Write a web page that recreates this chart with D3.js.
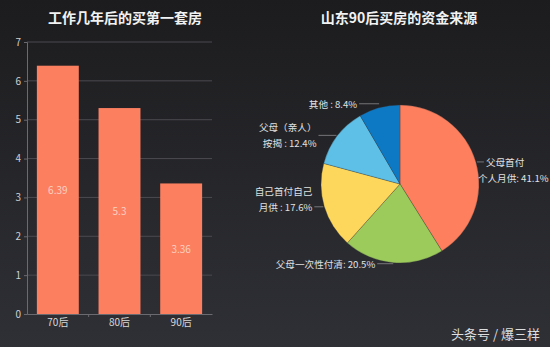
<!DOCTYPE html>
<html><head><meta charset="utf-8">
<script src="https://cdn.jsdelivr.net/npm/d3@7/dist/d3.min.js"></script>
<style>html,body{margin:0;padding:0;background:#26262a;}svg{display:block;}</style>
</head><body>
<svg id="c" width="550" height="347"></svg>
<script>
const barCategories = ["70后", "80后", "90后"];
const barValues = [6.39, 5.3, 3.36];
const barValueLabels = ["6.39", "5.3", "3.36"];
const yTicks = [0, 1, 2, 3, 4, 5, 6, 7];

const pieNames = ["父母首付\n个人月供: 41.1%", "父母一次性付清: 20.5%", "自己首付自己\n月供 : 17.6%", "父母（亲人）\n按揭 : 12.4%", "其他 : 8.4%"];
const pieValues = [41.1, 20.5, 17.6, 12.4, 8.4];
const pieColors = ["#fd7f5e", "#9ccb5b", "#fcd75c", "#5ec0e7", "#0d79c5"];

const titles = ["工作几年后的买第一套房", "山东90后买房的资金来源"];
const watermark = "头条号 / 爆三样";

const svg = d3.select("#c");
const font = "'Noto Sans CJK SC','Noto Sans',sans-serif";
const defs = svg.append("defs");
const g = defs.append("linearGradient").attr("id","bg").attr("x1",0).attr("y1",0).attr("x2",0).attr("y2",1);
g.append("stop").attr("offset","0%").attr("stop-color","#1c1c1e");
g.append("stop").attr("offset","100%").attr("stop-color","#2f3036");
svg.append("rect").attr("width",550).attr("height",347).attr("fill","url(#bg)");

// titles
svg.append("text").attr("x",125).attr("y",23).attr("text-anchor","middle")
  .attr("fill","#f2f2f2").attr("font-size",14).attr("font-weight","bold").attr("font-family",font).text(titles[0]);
svg.append("text").attr("x",399).attr("y",23).attr("text-anchor","middle")
  .attr("fill","#f2f2f2").attr("font-size",14).attr("font-weight","bold").attr("font-family",font).text(titles[1]);

// bar chart
const x = d3.scaleBand().domain(barCategories).range([27, 212]).paddingInner(0.32).paddingOuter(0.16);
const y = d3.scaleLinear().domain([0, 7]).range([314, 42]);

const gridG = svg.append("g");
gridG.selectAll("line").data(yTicks.filter(t=>t>0)).join("line")
  .attr("x1",27).attr("x2",212).attr("y1",d=>y(d)).attr("y2",d=>y(d))
  .attr("stroke","#4a4a50").attr("stroke-width",1);

const yAxis = svg.append("g").attr("transform","translate(27,0)")
  .call(d3.axisLeft(y).tickValues(yTicks).tickFormat(d3.format("d")).tickSize(3).tickPadding(3));
yAxis.select(".domain").attr("stroke","#6a6a70");
yAxis.selectAll(".tick line").attr("stroke","#6a6a70");
yAxis.selectAll("text").attr("fill","#d0d0d0").attr("font-size",10).attr("font-family",font);

const xAxis = svg.append("g").attr("transform","translate(0,314)")
  .call(d3.axisBottom(x).tickSize(0).tickPadding(5));
xAxis.select(".domain").attr("stroke","#6a6a70");
xAxis.selectAll("text").attr("fill","#d8d8d8").attr("font-size",10).attr("font-family",font);
const seps = barCategories.slice(0,-1).map((c,i)=> (x(c)+x.bandwidth()+x(barCategories[i+1]))/2);
svg.append("g").selectAll("line").data(seps).join("line")
  .attr("x1",d=>d).attr("x2",d=>d).attr("y1",314).attr("y2",317).attr("stroke","#6a6a70");

svg.append("g").selectAll("rect").data(barValues).join("rect")
  .attr("x",(d,i)=>x(barCategories[i])).attr("width",x.bandwidth())
  .attr("y",d=>y(d)).attr("height",d=>314-y(d)).attr("fill","#fc7f60");
svg.append("g").selectAll("text").data(barValues).join("text")
  .attr("x",(d,i)=>x(barCategories[i])+x.bandwidth()/2)
  .attr("y",d=>(y(d)+314)/2+4).attr("text-anchor","middle")
  .attr("fill","#fbd0c0").attr("font-size",10).attr("font-family",font)
  .text((d,i)=>barValueLabels[i]);

// pie
const cx = 400, cy = 184, R = 79;
const pie = d3.pie().sort(null).value(d=>d);
const arcs = pie(pieValues);
const arc = d3.arc().innerRadius(0).outerRadius(R);
const pg = svg.append("g").attr("transform",`translate(${cx},${cy})`);
pg.selectAll("path").data(arcs).join("path").attr("d",arc)
  .attr("fill",(d,i)=>pieColors[i]).attr("stroke","#3a3a3e").attr("stroke-width",0.3);

// labels: horizontal leader from arc edge
const lineLen = [7, 16, 9, 18, 20];
const lift = [0, 0, 0, 0, -3];
const lg = pg.append("g");
arcs.forEach((a,i)=>{
  const mid = (a.startAngle + a.endAngle)/2;
  const px = Math.sin(mid)*(R+1), py = -Math.cos(mid)*(R+1) + lift[i];
  const right = Math.sin(mid) > 0.2;
  const dir = right ? 1 : -1;
  const ex = px + dir*lineLen[i];
  lg.append("line").attr("x1",px).attr("y1",py).attr("x2",ex).attr("y2",py)
    .attr("stroke","#8a8a8e").attr("stroke-width",0.8);
  const lines = pieNames[i].split("\n");
  const t = lg.append("text").attr("fill","#e0e0e0").attr("font-size",9.6).attr("font-family",font)
    .attr("text-anchor", right ? "start" : "end");
  const n = lines.length;
  lines.forEach((s,k)=>{
    let ty, tx = ex + dir*2;
    if (n === 1) ty = py + 4;
    else if (right) { ty = py + 4 + k*16; if (k > 0) tx = px + 1; }
    else ty = py + 4 - (n-1-k)*16 + (i===3 ? 8 : 0);
    t.append("tspan").attr("x", tx).attr("y", ty).text(s);
  });
});

svg.append("text").attr("x",540).attr("y",339).attr("text-anchor","end")
  .attr("fill","#dedede").attr("font-size",13).attr("font-family",font).text(watermark);
</script>
</body></html>
